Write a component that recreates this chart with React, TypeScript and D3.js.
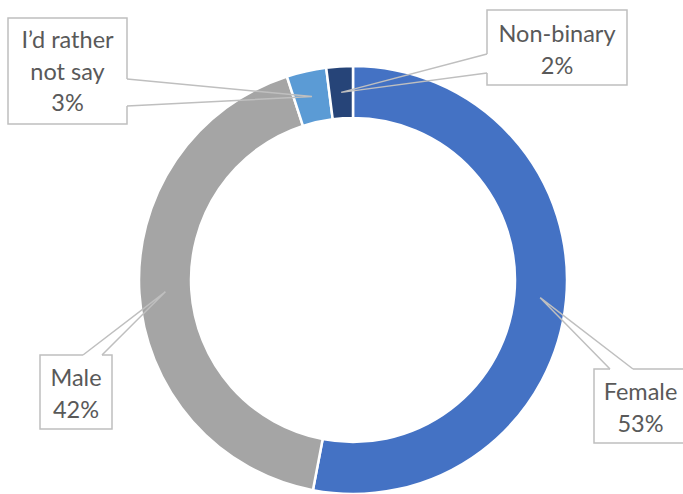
import React from "react";
import * as d3 from "d3";

const categories = ["Female", "Male", "I’d rather not say", "Non-binary"];
const values = [53, 42, 3, 2];
const labelLines = [["Female"], ["Male"], ["I’d rather", "not say"], ["Non-binary"]];
const colors = ["#4472C4", "#A5A5A5", "#5B9BD5", "#264478"];

// layout of the callout boxes: box rect, base of wedge on an edge
const boxes = [
  { x: 594, y: 369, w: 93, h: 74, side: "top", b0: 610, b1: 633, firstBase: 400 },
  { x: 40, y: 355, w: 72, h: 74, side: "top", b0: 83, b1: 102, firstBase: 386 },
  { x: 8, y: 18, w: 119, h: 106, side: "right", b0: 79, b1: 106, firstBase: 48 },
  { x: 487, y: 10, w: 140, h: 75, side: "left", b0: 54, b1: 73, firstBase: 42 },
];

const W = 683;
const H = 494;
const cx = 353;
const cy = 280;
const outerR = 214;
const innerR = 162;
const lineH = 31.5;

export default function App() {
  const total = d3.sum(values);
  const pie = d3.pie<number>().sort(null).value((d) => d);
  const arcs = pie(values);
  const arc = d3.arc<d3.PieArcDatum<number>>().innerRadius(innerR).outerRadius(outerR);

  return (
    <svg
      width={W}
      height={H}
      style={{ position: "absolute", left: 0, top: 0, display: "block", background: "#fff" }}
      fontFamily="Lato, 'Open Sans', sans-serif"
    >
      <g transform={`translate(${cx},${cy})`}>
        {arcs.map((a, i) => (
          <path key={categories[i]} d={arc(a) || ""} fill={colors[i]} stroke="#fff" strokeWidth={2.5} />
        ))}
      </g>
      {arcs.map((a, i) => {
        const b = boxes[i];
        const [tx, ty] = arc.centroid(a);
        const tipX = cx + tx;
        const tipY = cy + ty;
        const x0 = b.x;
        const y0 = b.y;
        const x1 = b.x + b.w;
        const y1 = b.y + b.h;
        let outline = "";
        if (b.side === "top") {
          outline = `M${b.b1},${y0} L${x1},${y0} L${x1},${y1} L${x0},${y1} L${x0},${y0} L${b.b0},${y0}`;
        } else if (b.side === "right") {
          outline = `M${x1},${b.b1} L${x1},${y1} L${x0},${y1} L${x0},${y0} L${x1},${y0} L${x1},${b.b0}`;
        } else {
          outline = `M${x0},${b.b0} L${x0},${y0} L${x1},${y0} L${x1},${y1} L${x0},${y1} L${x0},${b.b1}`;
        }
        let wedge = "";
        if (b.side === "top") {
          wedge = `M${b.b0},${y0} L${tipX},${tipY} L${b.b1},${y0}`;
        } else if (b.side === "right") {
          wedge = `M${x1},${b.b0} L${tipX},${tipY} L${x1},${b.b1}`;
        } else {
          wedge = `M${x0},${b.b0} L${tipX},${tipY} L${x0},${b.b1}`;
        }
        const pct = `${Math.round((values[i] / total) * 100)}%`;
        const lines = [...labelLines[i], pct];
        const tcx = b.x + b.w / 2;
        return (
          <g key={"lab" + i}>
            <rect x={x0} y={y0} width={b.w} height={b.h} fill="#fff" />
            <path d={outline} fill="none" stroke="#BFBFBF" strokeWidth={1.5} />
            <path d={wedge} fill="none" stroke="#BFBFBF" strokeWidth={1.5} />
            {lines.map((t, j) => (
              <text
                key={j}
                x={tcx}
                y={b.firstBase + j * lineH}
                textAnchor="middle"
                fontSize={23.5}
                fill="#595959"
              >
                {t}
              </text>
            ))}
          </g>
        );
      })}
    </svg>
  );
}
